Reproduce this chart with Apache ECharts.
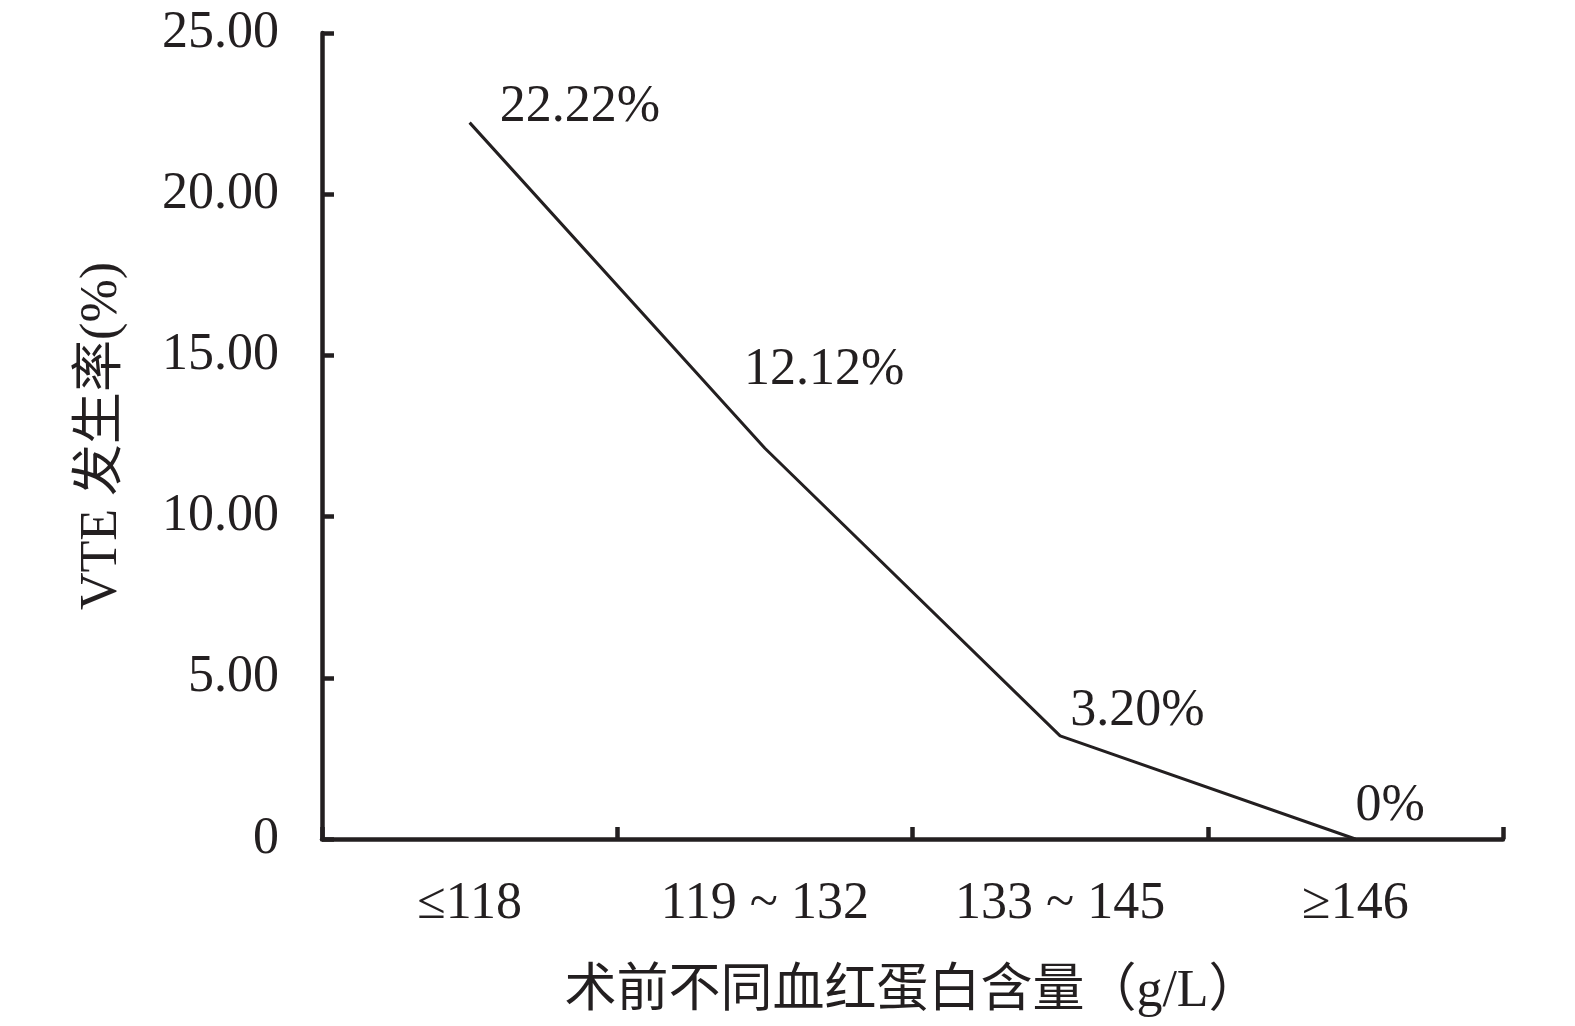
<!DOCTYPE html>
<html>
<head>
<meta charset="utf-8">
<script src="https://cdn.jsdelivr.net/npm/echarts@6/dist/echarts.min.js"></script>
<style>
html,body{margin:0;padding:0;background:#fff;}
#chart{width:1575px;height:1026px;}
</style>
</head>
<body>
<div id="chart"></div>
<script>
const categories = ['≤118', '119 ~ 132', '133 ~ 145', '≥146'];
const values = [22.22, 12.12, 3.20, 0];
const valueLabels = ['22.22%', '12.12%', '3.20%', '0%'];
const yTicks = [0, 5, 10, 15, 20, 25];
const xTitle = '术前不同血红蛋白含量（g/L）';
const yTitle = 'VTE 发生率(%)';

// label offsets (styling only)
const labelOffsets = [[30, -15], [-21, -78], [10, -24], [0, -33]];

const FONT = '"Liberation Serif", "Noto Sans CJK SC", serif';
const INK = '#231f20';

const chart = echarts.init(document.getElementById('chart'), null, {renderer: 'canvas'});
chart.setOption({
  backgroundColor: '#fff',
  animation: false,
  grid: {left: 322, right: 72, top: 33, bottom: 187, containLabel: false},
  xAxis: {
    type: 'category',
    data: categories,
    boundaryGap: true,
    name: xTitle,
    nameLocation: 'middle',
    nameGap: 127,
    nameTextStyle: {fontFamily: FONT, fontSize: 52, color: INK},
    axisLine: {show: true, lineStyle: {color: INK, width: 4.5}},
    axisTick: {show: true, inside: true, length: 12, lineStyle: {color: INK, width: 4.5}},
    axisLabel: {fontFamily: FONT, fontSize: 52, color: INK, margin: 39},
    splitLine: {show: false}
  },
  yAxis: {
    type: 'value',
    min: yTicks[0],
    max: yTicks[yTicks.length - 1],
    interval: yTicks[1] - yTicks[0],
    name: yTitle,
    nameLocation: 'middle',
    nameRotate: 90,
    nameGap: 194,
    nameTextStyle: {fontFamily: FONT, fontSize: 52, color: INK},
    axisLine: {show: true, lineStyle: {color: INK, width: 4.5}},
    axisTick: {show: true, inside: true, length: 12, lineStyle: {color: INK, width: 4.5}},
    axisLabel: {
      fontFamily: FONT, fontSize: 52, color: INK, margin: 43,
      formatter: v => v === 0 ? '0' : v.toFixed(2)
    },
    splitLine: {show: false}
  },
  series: [{
    type: 'line',
    data: values.map((v, i) => ({
      value: v,
      label: {
        show: true,
        formatter: valueLabels[i],
        position: 'inside',
        align: 'left',
        verticalAlign: 'middle',
        offset: labelOffsets[i],
        fontFamily: FONT, fontSize: 52, color: INK
      }
    })),
    symbol: 'circle',
    symbolSize: 1,
    showSymbol: true,
    itemStyle: {color: 'rgba(0,0,0,0)', borderWidth: 0},
    lineStyle: {color: INK, width: 3},
    emphasis: {disabled: true}
  }]
});
</script>
</body>
</html>
